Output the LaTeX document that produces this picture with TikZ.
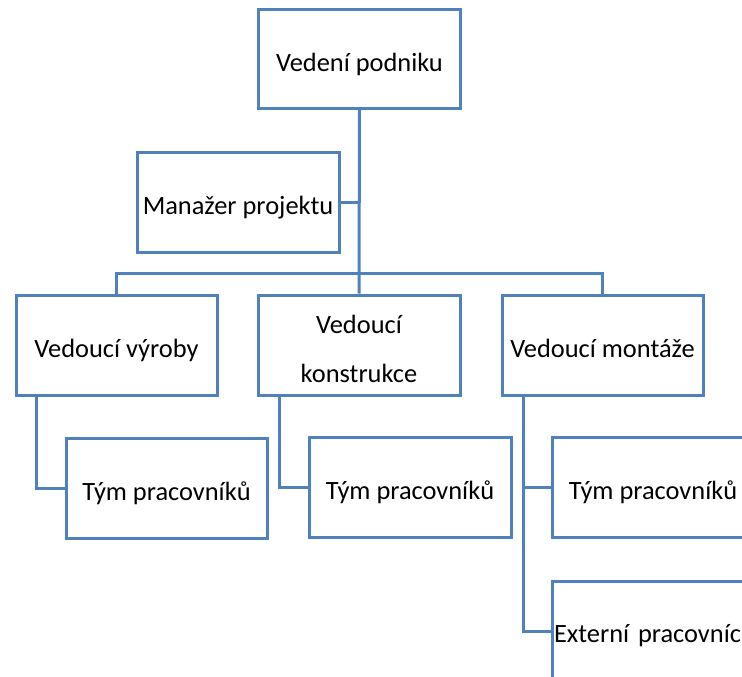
\documentclass[tikz,border=0pt]{standalone}
\usepackage{fontspec}
\setmainfont{Carlito}
\definecolor{orgline}{HTML}{4F81BD}
\begin{document}
\begin{tikzpicture}[x=1pt,y=-1pt,
  unit/.style={draw=orgline, line width=3pt, fill=white, inner sep=0pt,
    minimum width=202pt, minimum height=100pt, align=center,
    text height=24pt, text depth=0pt,
    font=\fontsize{26.4pt}{31pt}\selectfont},
  link/.style={draw=orgline, line width=3pt}]
\useasboundingbox (0,0) rectangle (742,677);
\clip (0,0) rectangle (742,677);
\fill[white] (0,0) rectangle (742,677);

% junction points of the connector lines
\coordinate (busL) at (116.5,273);
\coordinate (busR) at (602.5,273);
\coordinate (mgrJoin) at (359,202);
\coordinate (vyrTurn) at (36,488);
\coordinate (konTurn) at (279,487.5);
\coordinate (monTeam) at (523,487);
\coordinate (monExt) at (523,631);

% boxes
\node[unit, minimum height=98pt] (head) at (359.5,59) {Vedení podniku};
\node[unit] (mgr) at (238,202) {Manažer projektu};
\node[unit, minimum width=201pt] (vyr) at (116.5,345) {Vedoucí výroby};
\node[unit, text height=74pt, text depth=0pt,
      font=\fontsize{26.4pt}{49pt}\selectfont] (kon) at (359,345) {Vedoucí\\konstrukce};
\node[unit, minimum width=201pt] (mon) at (602.5,345) {Vedoucí montáže};
\node[unit, minimum width=201pt] (team1) at (166.5,488) {Tým pracovníků};
\node[unit] (team2) at (410,487.5) {Tým pracovníků};
\node[unit] (team3) at (653,487) {Tým pracovníků};
\node[unit, text width=198pt, align=left, text height=22pt] (ext) at (653,631)
     {\makebox[0pt][l]{Externí pracovníci}};

% trunk and bus
\draw[link] (head.south) -- (kon.north);
\draw[link] (mgr.east |- mgrJoin) -- (mgrJoin);
\draw[link] (vyr.north) -- (busL) -- (busR) -- (mon.north);

% production branch
\draw[link] (vyr.south -| vyrTurn) -- (vyrTurn) -- (team1.west);
% design branch
\draw[link] (kon.south -| konTurn) -- (konTurn) -- (team2.west);
% assembly branch
\draw[link] (mon.south -| monExt) -- (monExt) -- (ext.west |- monExt);
\draw[link] (monTeam) -- (team3.west);
\end{tikzpicture}
\end{document}
